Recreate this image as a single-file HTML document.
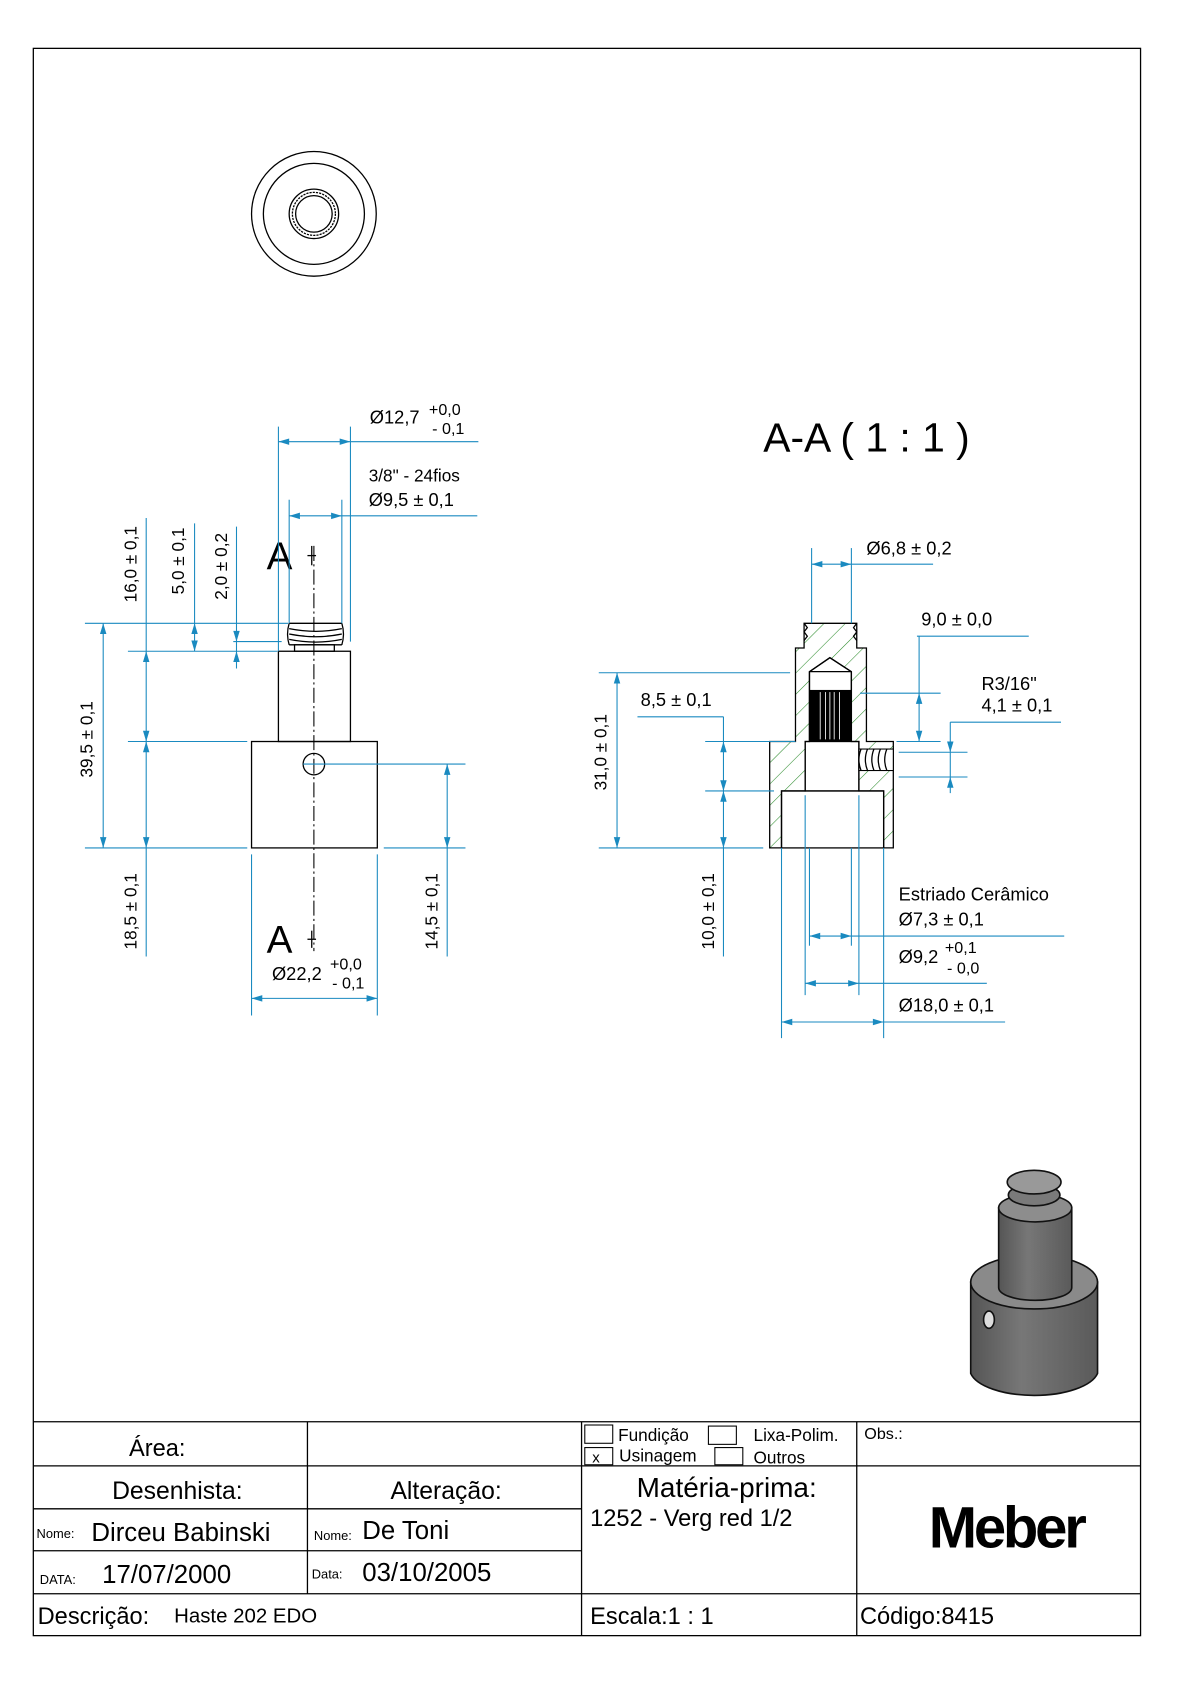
<!DOCTYPE html>
<html><head><meta charset="utf-8"><style>
html,body{margin:0;padding:0;background:#fff}
svg{display:block}
text{font-family:"Liberation Sans",sans-serif;fill:#000}
.d{stroke:#1a8ac0;stroke-width:1;fill:none}
.k{stroke:#000;stroke-width:1.2;fill:none}
.a{fill:#1a8ac0}
</style></head><body>
<svg width="1190" height="1684" viewBox="0 0 1107 1567" preserveAspectRatio="none" xmlns="http://www.w3.org/2000/svg">
<defs>
<linearGradient id="g1" x1="0" x2="1"><stop offset="0" stop-color="#555"/><stop offset="0.4" stop-color="#777"/><stop offset="1" stop-color="#5a5a5a"/></linearGradient>
<pattern id="hat" width="14" height="14" patternUnits="userSpaceOnUse" patternTransform="rotate(45)"><line x1="0" y1="0" x2="0" y2="14" stroke="#2a8a2a" stroke-width="1"/></pattern>
</defs>
<rect x="31" y="45" width="1030" height="1477" fill="none" stroke="#000" stroke-width="1.2"/>
<g stroke="#000" stroke-width="1.2">
<line x1="31" y1="1323" x2="1061" y2="1323"/>
<line x1="31" y1="1364" x2="1061" y2="1364"/>
<line x1="31" y1="1404" x2="541" y2="1404"/>
<line x1="31" y1="1443" x2="541" y2="1443"/>
<line x1="31" y1="1483" x2="1061" y2="1483"/>
<line x1="286" y1="1323" x2="286" y2="1483"/>
<line x1="541" y1="1323" x2="541" y2="1522"/>
<line x1="797" y1="1323" x2="797" y2="1522"/>
</g>
<g fill="none" stroke="#000" stroke-width="1">
<rect x="544" y="1326" width="26" height="17"/><rect x="659" y="1327" width="26" height="17"/>
<rect x="544" y="1347" width="26" height="16"/><rect x="665" y="1347" width="26" height="16"/>
</g>
<text x="120" y="1355" font-size="22">Área:</text>
<text x="575" y="1341" font-size="16">Fundição</text>
<text x="701" y="1341" font-size="16">Lixa-Polim.</text>
<text x="551" y="1361" font-size="14">x</text>
<text x="576" y="1360" font-size="16">Usinagem</text>
<text x="701" y="1362" font-size="16">Outros</text>
<text x="804" y="1339" font-size="15">Obs.:</text>
<text x="165" y="1395" font-size="23" text-anchor="middle">Desenhista:</text>
<text x="415" y="1395" font-size="23" text-anchor="middle">Alteração:</text>
<text x="34" y="1431" font-size="12">Nome:</text>
<text x="85" y="1434" font-size="24">Dirceu Babinski</text>
<text x="292" y="1433" font-size="12">Nome:</text>
<text x="337" y="1432" font-size="24">De Toni</text>
<text x="37" y="1474" font-size="12">DATA:</text>
<text x="95" y="1473" font-size="24">17/07/2000</text>
<text x="290" y="1469" font-size="12">Data:</text>
<text x="337" y="1471" font-size="24">03/10/2005</text>
<text x="676" y="1393" font-size="26" text-anchor="middle">Matéria-prima:</text>
<text x="549" y="1420" font-size="22">1252 - Verg red 1/2</text>
<text x="936" y="1440" font-size="54" font-weight="bold" text-anchor="middle" letter-spacing="-3">Meber</text>
<text x="35" y="1511" font-size="22">Descrição:</text>
<text x="162" y="1510" font-size="19">Haste 202 EDO</text>
<text x="549" y="1511" font-size="22">Escala:1 : 1</text>
<text x="800" y="1511" font-size="22">Código:8415</text>

<g class="k">
<circle cx="292" cy="199" r="58"/><circle cx="292" cy="199" r="47"/>
<circle cx="292" cy="199" r="23"/><circle cx="292" cy="199" r="20" stroke-dasharray="2 1"/><circle cx="292" cy="199" r="17"/>
</g>

<line x1="292" y1="508" x2="292" y2="885" stroke="#000" stroke-width="1" stroke-dasharray="14 3 2 3"/>
<g class="k">
<path d="M269 580 H318 M269 585 Q294 590 318 585 M269 590 Q294 595 318 590 M269 595 Q294 600 318 595 M269 600 H318 M269 580 Q266 590 269 600 M318 580 Q321 590 318 600"/>
<rect x="274" y="600" width="37" height="6"/>
<rect x="259" y="606" width="67" height="84"/>
<rect x="234" y="690" width="117" height="99"/>
<circle cx="292" cy="711" r="10"/>
<line x1="286" y1="517" x2="294" y2="517"/><line x1="286" y1="874" x2="294" y2="874"/>
<line x1="290" y1="508" x2="290" y2="526"/><line x1="290" y1="866" x2="290" y2="882"/>
</g>
<text x="248" y="530" font-size="36">A</text>
<text x="248" y="887" font-size="36">A</text>
<g class="d">
<line x1="259" y1="397" x2="259" y2="606"/><line x1="326" y1="397" x2="326" y2="597"/>
<line x1="259" y1="411" x2="445" y2="411"/>
<line x1="269" y1="465" x2="269" y2="580"/><line x1="318" y1="465" x2="318" y2="580"/>
<line x1="269" y1="480" x2="444" y2="480"/>
<line x1="79" y1="580" x2="268" y2="580"/><line x1="119" y1="606" x2="258" y2="606"/>
<line x1="217" y1="597" x2="262" y2="597"/>
<line x1="119" y1="690" x2="230" y2="690"/><line x1="79" y1="789" x2="230" y2="789"/>
<line x1="220" y1="490" x2="220" y2="622"/>
<line x1="181" y1="487" x2="181" y2="606"/>
<line x1="136" y1="482" x2="136" y2="890"/>
<line x1="96" y1="580" x2="96" y2="789"/>
<line x1="282" y1="711" x2="433" y2="711"/><line x1="357" y1="789" x2="433" y2="789"/>
<line x1="416" y1="711" x2="416" y2="890"/>
<line x1="234" y1="795" x2="234" y2="945"/><line x1="351" y1="795" x2="351" y2="945"/>
<line x1="234" y1="929" x2="351" y2="929"/>
</g>
<g class="a">
<path d="M259 411 l10 -3 v6z M326 411 l-10 -3 v6z"/>
<path d="M269 480 l10 -3 v6z M318 480 l-10 -3 v6z"/>
<path d="M220 597 l-3 -10 h6z M220 606 l-3 10 h6z"/>
<path d="M181 580 l-3 10 h6z M181 606 l-3 -10 h6z"/>
<path d="M136 606 l-3 10 h6z M136 690 l-3 -10 h6z M136 690 l-3 10 h6z M136 789 l-3 -10 h6z"/>
<path d="M96 580 l-3 10 h6z M96 789 l-3 -10 h6z"/>
<path d="M416 711 l-3 10 h6z M416 789 l-3 -10 h6z"/>
<path d="M234 929 l10 -3 v6z M351 929 l-10 -3 v6z"/>
</g>
<text x="344" y="394" font-size="17">Ø12,7</text>
<text x="399" y="386" font-size="15">+0,0</text><text x="402" y="404" font-size="15">- 0,1</text>
<text x="343" y="448" font-size="16">3/8" - 24fios</text>
<text x="343" y="471" font-size="17">Ø9,5 ± 0,1</text>
<text x="253" y="912" font-size="17">Ø22,2</text>
<text x="307" y="902" font-size="15">+0,0</text><text x="309" y="920" font-size="15">- 0,1</text>
<g font-size="16">
<text transform="translate(127,525) rotate(-90)" text-anchor="middle">16,0 ± 0,1</text>
<text transform="translate(171,522) rotate(-90)" text-anchor="middle">5,0 ± 0,1</text>
<text transform="translate(211,527) rotate(-90)" text-anchor="middle">2,0 ± 0,2</text>
<text transform="translate(86,688) rotate(-90)" text-anchor="middle">39,5 ± 0,1</text>
<text transform="translate(127,848) rotate(-90)" text-anchor="middle">18,5 ± 0,1</text>
<text transform="translate(407,848) rotate(-90)" text-anchor="middle">14,5 ± 0,1</text>
<text transform="translate(564,700) rotate(-90)" text-anchor="middle">31,0 ± 0,1</text>
<text transform="translate(664,848) rotate(-90)" text-anchor="middle">10,0 ± 0,1</text>
</g>

<text x="710" y="420" font-size="38">A-A  ( 1 : 1 )</text>
<path d="M748 580 H797 V603 H806 V690 H831 V789 H822 V736 H799 V690 H792 V625 L772 612 L753 625 V690 H749 V736 H727 V789 H716 V690 H740 V603 H748Z" fill="url(#hat)" stroke="#000" stroke-width="1.2"/>
<g class="k">
<path d="M748 580 l3 4 l-3 4 l3 4 l-3 4 M797 580 l-3 4 l3 4 l-3 4 l3 4"/>
<rect x="727" y="736" width="95" height="53"/>
<rect x="749" y="690" width="50" height="46"/>
<path d="M753 690 V625 L772 612 L792 625 V690"/>
<line x1="753" y1="625" x2="792" y2="625"/>
</g>
<rect x="753" y="642" width="39" height="48" fill="#000"/>
<g stroke="#fff" stroke-width="0.8"><line x1="763" y1="644" x2="763" y2="688"/><line x1="768" y1="644" x2="768" y2="688"/><line x1="772" y1="644" x2="772" y2="688"/><line x1="776" y1="644" x2="776" y2="688"/><line x1="781" y1="644" x2="781" y2="688"/></g>
<rect x="799" y="697" width="32" height="20" fill="#fff" stroke="#000" stroke-width="1"/>
<path d="M801 697 q-4 10 0 20 M807 697 q-4 10 0 20 M813 697 q-4 10 0 20 M819 697 q-4 10 0 20 M825 697 q-4 10 0 20" class="k" stroke-width="1"/>
<g class="d">
<line x1="755" y1="510" x2="755" y2="580"/><line x1="792" y1="510" x2="792" y2="580"/>
<line x1="755" y1="525" x2="868" y2="525"/>
<line x1="853" y1="592" x2="957" y2="592"/><line x1="855" y1="592" x2="855" y2="690"/>
<line x1="800" y1="645" x2="875" y2="645"/><line x1="834" y1="690" x2="875" y2="690"/>
<line x1="884" y1="672" x2="987" y2="672"/><line x1="884" y1="672" x2="884" y2="738"/>
<line x1="836" y1="700" x2="900" y2="700"/><line x1="836" y1="723" x2="900" y2="723"/>
<line x1="557" y1="626" x2="735" y2="626"/><line x1="557" y1="789" x2="710" y2="789"/>
<line x1="574" y1="626" x2="574" y2="789"/>
<line x1="593" y1="667" x2="673" y2="667"/><line x1="673" y1="667" x2="673" y2="890"/>
<line x1="656" y1="690" x2="740" y2="690"/><line x1="656" y1="736" x2="720" y2="736"/>
<line x1="753" y1="789" x2="753" y2="880"/><line x1="792" y1="789" x2="792" y2="880"/>
<line x1="753" y1="871" x2="990" y2="871"/>
<line x1="749" y1="740" x2="749" y2="926"/><line x1="799" y1="740" x2="799" y2="926"/>
<line x1="749" y1="915" x2="918" y2="915"/>
<line x1="727" y1="789" x2="727" y2="966"/><line x1="822" y1="789" x2="822" y2="966"/>
<line x1="727" y1="951" x2="935" y2="951"/>
</g>
<g class="a">
<path d="M755 525 l10 -3 v6z M792 525 l-10 -3 v6z"/>
<path d="M855 645 l-3 10 h6z M855 690 l-3 -10 h6z"/>
<path d="M884 700 l-3 -10 h6z M884 723 l-3 10 h6z"/>
<path d="M574 626 l-3 10 h6z M574 789 l-3 -10 h6z"/>
<path d="M673 690 l-3 10 h6z M673 736 l-3 -10 h6z M673 736 l-3 10 h6z M673 789 l-3 -10 h6z"/>
<path d="M753 871 l10 -3 v6z M792 871 l-10 -3 v6z"/>
<path d="M749 915 l10 -3 v6z M799 915 l-10 -3 v6z"/>
<path d="M727 951 l10 -3 v6z M822 951 l-10 -3 v6z"/>
</g>
<text x="806" y="516" font-size="17">Ø6,8 ± 0,2</text>
<text x="857" y="582" font-size="17">9,0 ± 0,0</text>
<text x="913" y="642" font-size="17">R3/16"</text>
<text x="913" y="662" font-size="17">4,1 ± 0,1</text>
<text x="596" y="657" font-size="17">8,5 ± 0,1</text>
<text x="836" y="838" font-size="17">Estriado Cerâmico</text>
<text x="836" y="861" font-size="17">Ø7,3 ± 0,1</text>
<text x="836" y="896" font-size="17">Ø9,2</text>
<text x="879" y="887" font-size="15">+0,1</text><text x="881" y="906" font-size="15">- 0,0</text>
<text x="836" y="941" font-size="17">Ø18,0 ± 0,1</text>

<g stroke="#111" stroke-width="1.5">
<path d="M903 1193 V1278 A60 25 0 0 0 1021 1278 V1193Z" fill="url(#g1)"/>
<ellipse cx="962" cy="1193" rx="59" ry="25" fill="#8a8a8a"/>
<path d="M929 1124 V1198 A34 12 0 0 0 997 1198 V1124Z" fill="url(#g1)"/>
<ellipse cx="963" cy="1124" rx="34" ry="13" fill="#8d8d8d"/>
<ellipse cx="962" cy="1112" rx="24" ry="10" fill="#7a7a7a"/>
<ellipse cx="962" cy="1100" rx="25" ry="11" fill="#999"/>
<ellipse cx="920" cy="1228" rx="5" ry="8" fill="#ddd"/>
</g>
</svg>
</body></html>
